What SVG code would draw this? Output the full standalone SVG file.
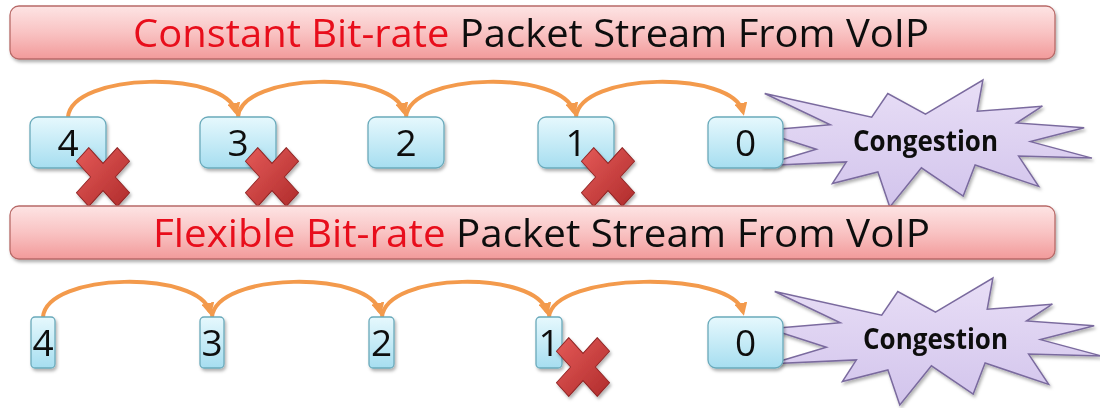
<svg xmlns="http://www.w3.org/2000/svg" xmlns:xlink="http://www.w3.org/1999/xlink" width="1100" height="408" viewBox="0 0 1100 408">
<style>
.banner{fill:url(#gBanner);stroke:#b86a68;stroke-width:1.3}
.btxt{font-family:"Open Sans","Liberation Sans",sans-serif;font-size:38px;fill:#111}
.red{fill:#e8101a}
.box{fill:url(#gBox);stroke:#6aaabb;stroke-width:1.3}
.num{font-family:"Open Sans","Liberation Sans",sans-serif;font-size:37px;fill:#111;text-anchor:middle}
.burst{fill:url(#gBurst);stroke:#7a6a9e;stroke-width:1.5}
.ctxt{font-family:"Open Sans","Liberation Sans",sans-serif;font-size:28px;font-weight:bold;fill:#111;text-anchor:middle}
.arc{fill:none;stroke:#f39a4c;stroke-width:4;marker-end:url(#ah)}
.cross{fill:url(#gX);stroke:#8e2424;stroke-width:1}
</style>
<defs>
<linearGradient id="gBanner" x1="0" y1="0" x2="0" y2="1">
<stop offset="0" stop-color="#fde4e4"/>
<stop offset="0.5" stop-color="#f9c3c3"/>
<stop offset="1" stop-color="#f29a9a"/>
</linearGradient>
<linearGradient id="gBox" x1="0" y1="0" x2="0" y2="1">
<stop offset="0" stop-color="#e6f8fd"/>
<stop offset="1" stop-color="#a6def0"/>
</linearGradient>
<linearGradient id="gBurst" x1="0" y1="0" x2="0" y2="1">
<stop offset="0" stop-color="#e8def6"/>
<stop offset="1" stop-color="#d2c4ec"/>
</linearGradient>
<linearGradient id="gX" x1="0" y1="0" x2="1" y2="1">
<stop offset="0" stop-color="#e45a58"/>
<stop offset="1" stop-color="#b02c2c"/>
</linearGradient>
<filter id="sh" x="-10%" y="-20%" width="130%" height="150%">
<feDropShadow dx="1.5" dy="2.5" stdDeviation="1.8" flood-color="#000" flood-opacity="0.3"/>
</filter>
<marker id="ah" viewBox="0 0 10 10" refX="7" refY="5" markerWidth="13" markerHeight="13" markerUnits="userSpaceOnUse" orient="auto">
<path d="M0,0 L10,5 L0,10 Z" fill="#f39a4c"/>
</marker>
<path id="burstShape" d="M166.5,34.1 L223.9,0 L218.2,31.3 L283.4,26.2 L257.5,43 L325.2,47.8 L271.4,61.6 L333,78.1 L259.6,76.1 L279.7,106.4 L216.1,85 L204.2,116 L162.4,87.8 L130.8,127 L118.9,91.9 L73.4,103.6 L87.4,81.9 L2.1,85.8 L57.4,69.2 L0,50.7 L71.3,44.8 L5.7,13.5 L112.7,37.2 L128.8,13.5 Z"/>
<path id="xShape" d="M-28,-15 L-15,-28 L0,-13 L15,-28 L28,-15 L13,0 L28,15 L15,28 L0,13 L-15,28 L-28,15 L-13,0 Z" stroke-linejoin="round"/>
</defs>

<!-- Row 1 -->
<g id="banner1" filter="url(#sh)">
<rect class="banner" x="10" y="6" width="1045" height="53" rx="9"/>
<text class="btxt" x="133" y="47" textLength="796" lengthAdjust="spacingAndGlyphs"><tspan class="red">Constant Bit-rate</tspan> Packet Stream From VoIP</text>
</g>

<g id="congestion1" filter="url(#sh)">
<use href="#burstShape" xlink:href="#burstShape" class="burst" transform="translate(759,80)"/>
<text class="ctxt" x="925.5" y="151" textLength="145" lengthAdjust="spacingAndGlyphs">Congestion</text>
</g>

<g id="connectors1">
<path class="arc" d="M68,117 C72,72 226,70 236,112"/>
<path class="arc" d="M238,117 C242,72 394,70 404,112"/>
<path class="arc" d="M406,117 C410,72 564,70 574,112"/>
<path class="arc" d="M576,117 C580,72 733,70 743,112"/>
</g>

<g id="r1n4" filter="url(#sh)"><rect class="box" x="30" y="117" width="76" height="51" rx="8"/><text class="num" x="68" y="156">4</text></g>
<g id="r1n3" filter="url(#sh)"><rect class="box" x="200" y="117" width="76" height="51" rx="8"/><text class="num" x="238" y="156">3</text></g>
<g id="r1n2" filter="url(#sh)"><rect class="box" x="368" y="117" width="76" height="51" rx="8"/><text class="num" x="406" y="156">2</text></g>
<g id="r1n1" filter="url(#sh)"><rect class="box" x="538" y="117" width="76" height="51" rx="8"/><text class="num" x="576" y="156">1</text></g>
<g id="r1n0" filter="url(#sh)"><rect class="box" x="708" y="117" width="75" height="51" rx="8"/><text class="num" x="745.5" y="156">0</text></g>

<g id="r1x4" filter="url(#sh)"><use href="#xShape" xlink:href="#xShape" class="cross" transform="translate(103,177) scale(0.95,1.05)"/></g>
<g id="r1x3" filter="url(#sh)"><use href="#xShape" xlink:href="#xShape" class="cross" transform="translate(272,177) scale(0.95,1.05)"/></g>
<g id="r1x1" filter="url(#sh)"><use href="#xShape" xlink:href="#xShape" class="cross" transform="translate(608,177) scale(0.95,1.05)"/></g>

<!-- Row 2 -->
<g id="banner2" filter="url(#sh)">
<rect class="banner" x="10" y="206" width="1045" height="53" rx="9"/>
<text class="btxt" x="153" y="247" textLength="777" lengthAdjust="spacingAndGlyphs"><tspan class="red">Flexible Bit-rate</tspan> Packet Stream From VoIP</text>
</g>

<g id="congestion2" filter="url(#sh)">
<use href="#burstShape" xlink:href="#burstShape" class="burst" transform="translate(769,278)"/>
<text class="ctxt" x="935.5" y="349" textLength="145" lengthAdjust="spacingAndGlyphs">Congestion</text>
</g>

<g id="connectors2">
<path class="arc" d="M43,317 C47,272 200,270 210,312"/>
<path class="arc" d="M212,317 C216,272 370,270 380,312"/>
<path class="arc" d="M382,317 C386,272 537,270 547,312"/>
<path class="arc" d="M549,317 C553,272 733,270 743,312"/>
</g>

<g id="r2n4" filter="url(#sh)"><rect class="box" x="31" y="317" width="24" height="51" rx="4"/><text class="num" x="43" y="356">4</text></g>
<g id="r2n3" filter="url(#sh)"><rect class="box" x="200" y="317" width="24" height="51" rx="4"/><text class="num" x="212" y="356">3</text></g>
<g id="r2n2" filter="url(#sh)"><rect class="box" x="369" y="317" width="25" height="51" rx="4"/><text class="num" x="381.5" y="356">2</text></g>
<g id="r2n1" filter="url(#sh)"><rect class="box" x="536" y="317" width="26" height="51" rx="4"/><text class="num" x="549" y="356">1</text></g>
<g id="r2n0" filter="url(#sh)"><rect class="box" x="708" y="317" width="75" height="51" rx="8"/><text class="num" x="745.5" y="356">0</text></g>

<g id="r2x1" filter="url(#sh)"><use href="#xShape" xlink:href="#xShape" class="cross" transform="translate(583,367) scale(0.95,1.05)"/></g>
</svg>
